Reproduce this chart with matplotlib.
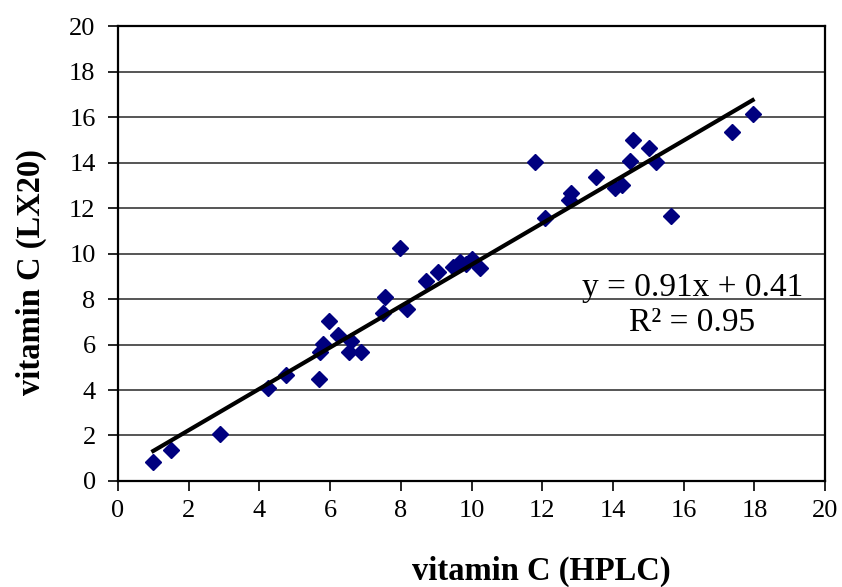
import matplotlib.pyplot as plt

# vitamin C measured by HPLC (x) vs LX20 (y)
hplc = [1.0, 1.49, 2.89, 4.25, 4.75, 5.69, 5.71, 5.81, 5.96, 6.23, 6.54, 6.58, 6.87,
        7.50, 7.55, 7.98, 8.17, 8.70, 9.06, 9.49, 9.67, 9.85, 10.0, 10.24,
        11.80, 12.08, 12.77, 12.80, 13.51, 14.06, 14.25, 14.48, 14.58, 15.03,
        15.22, 15.63, 17.36, 17.95]
lx20 = [0.85, 1.35, 2.08, 4.07, 4.68, 4.48, 5.68, 6.02, 7.02, 6.40, 5.68, 6.15, 5.68,
        7.37, 8.08, 10.24, 7.57, 8.80, 9.18, 9.42, 9.62, 9.55, 9.77, 9.35,
        14.02, 11.58, 12.35, 12.68, 13.36, 12.86, 13.00, 14.06, 15.00, 14.63,
        14.04, 11.66, 15.35, 16.12]

slope, intercept = 0.91, 0.41
fit_x = [min(hplc), max(hplc)]
fit_y = [slope * v + intercept for v in fit_x]

plt.rcParams['font.family'] = ['Liberation Serif', 'DejaVu Serif']

fig = plt.figure(figsize=(8.42, 5.87), dpi=100)
ax = fig.add_axes([0.140, 0.1806, 0.840, 0.775])

for yv in range(2, 20, 2):
    ax.axhline(yv, color='#555555', lw=1.4, zorder=0)

ax.plot(hplc, lx20, linestyle='none', marker='D', markersize=8.5,
        color='#00007f', zorder=3)
ax.plot(fit_x, fit_y, color='black', lw=3, zorder=4)

ax.set_xlim(0, 20)
ax.set_ylim(0, 20)
ax.set_xticks(range(0, 21, 2))
ax.set_yticks(range(0, 21, 2))
ax.tick_params(direction='out', length=7, width=1.2, labelsize=19)
ax.tick_params(axis='x', pad=7)
ax.tick_params(axis='y', pad=9)
for s in ax.spines.values():
    s.set_linewidth(1.6)
    s.set_color('black')

ax.text(0.812, 0.387, 'y = 0.91x + 0.41\nR² = 0.95', transform=ax.transAxes,
        ha='center', va='center', fontsize=24, linespacing=1.2)

fig.text(0.643, 0.026, 'vitamin C (HPLC)', ha='center', va='center',
         fontsize=23.5, fontweight='bold')
fig.text(0.037, 0.537, 'vitamin C (LX20)', ha='center', va='center',
         rotation=90, fontsize=23.5, fontweight='bold')

fig.savefig('out.png', dpi=100)
